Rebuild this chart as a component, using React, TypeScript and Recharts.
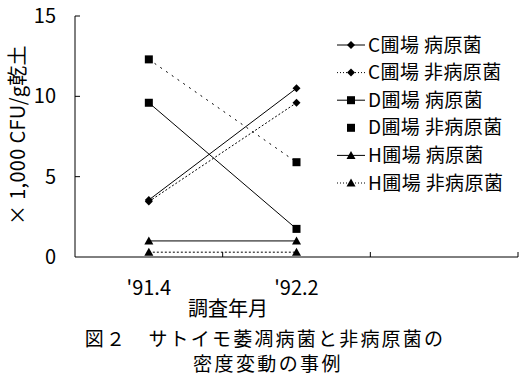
import { LineChart, Line, XAxis, YAxis, Legend } from "recharts"

const months = ["'91.4", "'92.2", ""]
const cPath = [3.55, 10.5]
const cNon = [3.45, 9.6]
const dPath = [9.6, 1.75]
const dNon = [12.3, 5.9]
const hPath = [1.0, 1.0]
const hNon = [0.3, 0.3]
const yTicks = [0, 5, 10, 15]
const xTicks = [0.5, 1, 1.5, 2, 2.5, 3]

const FONT = "'Noto Sans CJK JP', 'Noto Sans', sans-serif"

type Shape = "diamond" | "square" | "triangle"

const series: { key: string; name: string; dash?: string; shape: Shape; legendLine: "solid" | "dotted" | "none" }[] = [
  { key: "cPath", name: "C圃場 病原菌", shape: "diamond", legendLine: "solid" },
  { key: "cNon", name: "C圃場 非病原菌", dash: "2 2", shape: "diamond", legendLine: "dotted" },
  { key: "dPath", name: "D圃場 病原菌", shape: "square", legendLine: "solid" },
  { key: "dNon", name: "D圃場 非病原菌", dash: "2 5", shape: "square", legendLine: "none" },
  { key: "hPath", name: "H圃場 病原菌", shape: "triangle", legendLine: "solid" },
  { key: "hNon", name: "H圃場 非病原菌", dash: "2 2", shape: "triangle", legendLine: "dotted" },
]

const data = months.slice(0, 2).map((m, i) => ({
  x: i + 0.5,
  month: m,
  cPath: cPath[i],
  cNon: cNon[i],
  dPath: dPath[i],
  dNon: dNon[i],
  hPath: hPath[i],
  hNon: hNon[i],
}))

function Marker({ shape, cx, cy }: { shape: Shape; cx: number; cy: number }) {
  if (shape === "diamond")
    return <polygon points={`${cx},${cy - 4} ${cx + 4},${cy} ${cx},${cy + 4} ${cx - 4},${cy}`} fill="#000" />
  if (shape === "square") return <rect x={cx - 4} y={cy - 4} width={8} height={8} fill="#000" />
  return <polygon points={`${cx},${cy - 4.5} ${cx + 4.5},${cy + 3.5} ${cx - 4.5},${cy + 3.5}`} fill="#000" />
}

function XTick({ x, y, payload }: any) {
  const v = payload.value
  if (Number.isInteger(v)) return <line x1={x} y1={y} x2={x} y2={y - 5} stroke="#000" />
  return (
    <text x={x} y={y + 38} textAnchor="middle" fontSize={20} fontFamily={FONT} fill="#000">
      {months[Math.floor(v)]}
    </text>
  )
}

function YTick({ x, y, payload }: any) {
  return (
    <g>
      {payload.value > 0 && <line x1={x} y1={y} x2={x + 5} y2={y} stroke="#000" />}
      <text x={x - 19} y={y} dy="0.35em" textAnchor="end" fontSize={20} fontFamily={FONT} fill="#000">
        {payload.value}
      </text>
    </g>
  )
}

function LegendContent() {
  return (
    <svg width={192} height={170}>
      {series.map((s, i) => {
        const cy = 14 + i * 27.6
        return (
          <g key={s.key}>
            {s.legendLine !== "none" && (
              <line x1={2} y1={cy} x2={30} y2={cy} stroke="#000" strokeDasharray={s.legendLine === "dotted" ? "1 2" : undefined} />
            )}
            <Marker shape={s.shape} cx={16} cy={cy} />
            <text x={33} y={cy} dy="0.35em" fontSize={19} letterSpacing={0.4} fontFamily={FONT} fill="#000">
              {s.name}
            </text>
          </g>
        )
      })}
    </svg>
  )
}

export default function App() {
  return (
    <div style={{ position: "absolute", left: 0, top: 0, width: 528, height: 377, background: "#fff" }}>
      <LineChart width={528} height={377} data={data} margin={{ top: 16, right: 10, bottom: 80, left: 0 }}>
        <XAxis
          dataKey="x"
          type="number"
          domain={[0, 3]}
          ticks={xTicks}
          interval={0}
          tick={<XTick />}
          tickLine={false}
          tickSize={0}
          tickMargin={0}
          height={40}
          axisLine={{ stroke: "#000" }}
        />
        <YAxis
          type="number"
          domain={[0, 15]}
          ticks={yTicks}
          interval={0}
          width={75}
          tick={<YTick />}
          tickLine={false}
          tickSize={0}
          tickMargin={0}
          axisLine={{ stroke: "#000" }}
        />
        <Legend
          layout="vertical"
          align="center"
          verticalAlign="middle"
          content={<LegendContent />}
          wrapperStyle={{ left: 335, top: 31, width: 192, height: 170 }}
        />
        {series.map((s) => (
          <Line
            key={s.key}
            dataKey={s.key}
            name={s.name}
            stroke="#000"
            strokeWidth={1}
            strokeDasharray={s.dash}
            isAnimationActive={false}
            dot={(p: any) => <Marker key={`${s.key}-${p.index}`} shape={s.shape} cx={p.cx} cy={p.cy} />}
            activeDot={false}
          />
        ))}
      </LineChart>
      <svg width={528} height={377} style={{ position: "absolute", left: 0, top: 0, pointerEvents: "none" }}>
        <text
          transform="rotate(-90, 18, 135)"
          x={18}
          y={135}
          dy="0.35em"
          textAnchor="middle"
          fontSize={20}
          letterSpacing={0.3}
          fontFamily={FONT}
          fill="#000"
        >
          × 1,000 CFU/g乾土
        </text>
        <text x={228} y={316} textAnchor="middle" fontSize={20} fontFamily={FONT} fill="#000">
          調査年月
        </text>
        <text x={265} y={346} textAnchor="middle" fontSize={19} letterSpacing={2.2} fontFamily={FONT} fill="#000">
          図２　サトイモ萎凋病菌と非病原菌の
        </text>
        <text x={268} y={371} textAnchor="middle" fontSize={19} letterSpacing={2.4} fontFamily={FONT} fill="#000">
          密度変動の事例
        </text>
      </svg>
    </div>
  )
}
